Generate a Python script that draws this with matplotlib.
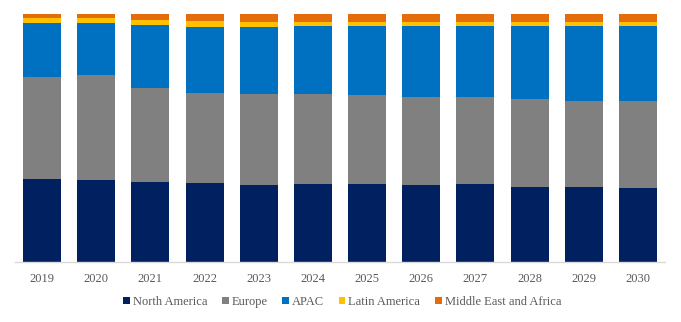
import matplotlib
matplotlib.use("Agg")
import matplotlib.pyplot as plt
import numpy as np

years = ["2019", "2020", "2021", "2022", "2023", "2024", "2025", "2026", "2027", "2028", "2029", "2030"]
north_america = [33.5, 33.2, 32.4, 31.7, 31.2, 31.5, 31.5, 31.2, 31.5, 30.4, 30.1, 30.0]
europe = [41.2, 42.1, 37.8, 36.5, 36.6, 36.3, 35.8, 35.5, 35.1, 35.2, 34.9, 35.1]
apac = [21.7, 21.2, 25.5, 26.8, 27.1, 27.3, 27.9, 28.5, 28.6, 29.6, 30.1, 30.1]
latin_america = [2.0, 1.9, 1.9, 2.1, 2.0, 1.9, 1.6, 1.7, 1.7, 1.7, 1.7, 1.7]
mea = [1.6, 1.6, 2.4, 2.8, 3.1, 3.1, 3.2, 3.1, 3.1, 3.1, 3.1, 3.1]

series = [
    ("North America", north_america, "#002060"),
    ("Europe", europe, "#808080"),
    ("APAC", apac, "#0070C0"),
    ("Latin America", latin_america, "#FFC000"),
    ("Middle East and Africa", mea, "#E46C0A"),
]

fig = plt.figure(figsize=(6.81, 3.22), dpi=100)
ax = fig.add_axes([15 / 681, 60 / 322, 650 / 681, 248 / 322])

x = np.arange(len(years))
bottom = np.zeros(len(years))
handles = []
for name, vals, color in series:
    vals = np.array(vals, dtype=float)
    b = ax.bar(x, vals, 0.70, bottom=bottom, color=color, label=name, linewidth=0)
    handles.append(b)
    bottom += vals

ax.set_xlim(-0.5, len(years) - 0.5)
ax.set_ylim(0, bottom.max())
ax.set_yticks([])
ax.set_xticks(x)
ax.set_xticklabels(years, family="Liberation Serif", fontsize=9, color="#595959")
ax.tick_params(axis="x", length=0, pad=8)
for s in ["top", "right", "left"]:
    ax.spines[s].set_visible(False)
ax.spines["bottom"].set_color("#D9D9D9")
ax.spines["bottom"].set_linewidth(1)

leg = fig.legend(handles=handles, labels=[s[0] for s in series], loc="center",
                 bbox_to_anchor=(342 / 681, 1 - 302 / 322), ncol=5, frameon=False,
                 prop={"family": "Liberation Serif", "size": 9},
                 handlelength=0.55, handleheight=0.55, handletextpad=0.25, columnspacing=1.15)
for t in leg.get_texts():
    t.set_color("#595959")

fig.savefig("out.png", dpi=100)
